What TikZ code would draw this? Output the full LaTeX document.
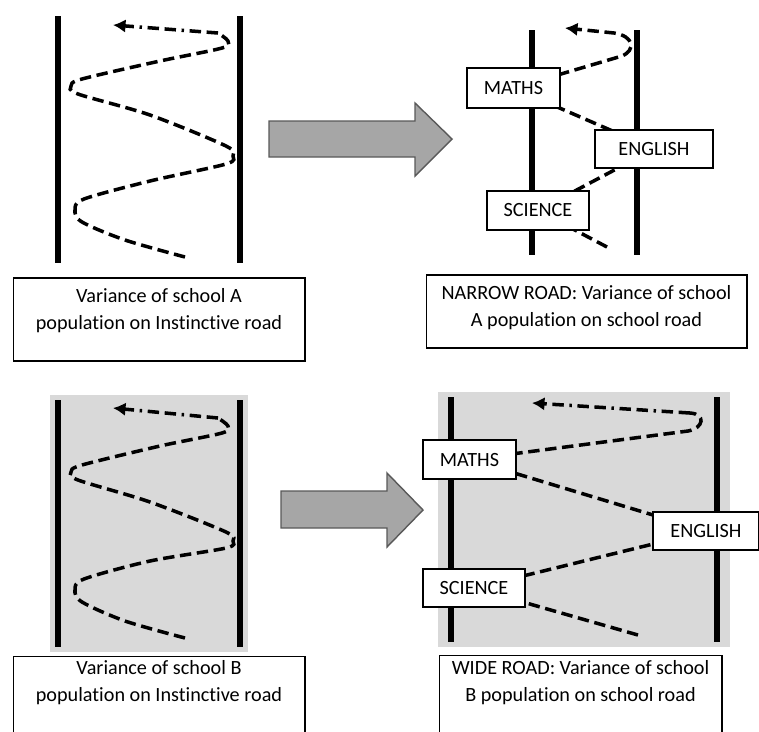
\documentclass[tikz,border=0pt]{standalone}
\usepackage{fontspec}
\setmainfont{Carlito}[Ligatures=NoCommon]
\usetikzlibrary{arrows.meta, backgrounds}
\definecolor{roadgray}{HTML}{D9D9D9}
\definecolor{arrowgray}{HTML}{A6A6A6}
\definecolor{arrowline}{HTML}{595959}
\tikzset{
  road/.style={
    line width=2.9pt, draw=black
  },
  wave/.style={
    line width=2pt, draw=black, dash pattern=on 6.5pt off 3.2pt
  },
  wavetop/.style={
    line width=2pt, draw=black,
    dash pattern=on 6.5pt off 3.2pt on 6.5pt off 3.2pt on 1.4pt off 3.2pt,
    -{Latex[length=2.5mm, width=2.7mm]}
  },
  subject/.style={
    rectangle, draw=black, fill=white, line width=0.6pt, text centered, inner sep=0pt
  },
  caption/.style={
    rectangle, draw=black, fill=white, line width=0.6pt
  },
  captext/.style={
    anchor=north, align=center, inner sep=0pt
  },
  bigarrow/.style={
    draw=arrowline, fill=arrowgray, line width=0.8pt, line join=miter
  }
}

\begin{document}
\begin{tikzpicture}[x=0.02cm, y=-0.02cm, every node/.style={font=\fontsize{11.5}{15.5}\selectfont}]
    \useasboundingbox (0,0) rectangle (759,731);
    \clip (0,0) rectangle (759,731);

    % Subject boxes on the school roads
    \node[subject, minimum width=1.86cm, minimum height=0.8cm] (mathsA) at (513.5,88) {MATHS};
    \node[subject, minimum width=2.36cm, minimum height=0.76cm] (englishA) at (654,149) {ENGLISH};
    \node[subject, minimum width=2.04cm, minimum height=0.78cm] (scienceA) at (538,210.5) {SCIENCE};

    \node[subject, minimum width=1.86cm, minimum height=0.78cm] (mathsB) at (469.5,459.5) {MATHS};
    \node[subject, minimum width=2.12cm, minimum height=0.76cm] (englishB) at (706,531) {ENGLISH};
    \node[subject, minimum width=2.04cm, minimum height=0.76cm] (scienceB) at (474,588) {SCIENCE};

    \coordinate (startA) at (607,247);
    \coordinate (tipA) at (565,28);
    \coordinate (startB) at (638,635);
    \coordinate (bendB) at (690,413);
    \coordinate (tipB) at (532,403);

    \begin{scope}[on background layer]
    % Grey ground of school B
    \fill[roadgray] (50,395) rectangle (248,652);
    \fill[roadgray] (438,392) rectangle (730,647);

    % Roads
    \draw[road] (58,16) -- (58,263);
    \draw[road] (240,16) -- (240,263);
    \draw[road] (532,30) -- (532,255);
    \draw[road] (637,30) -- (637,255);
    \draw[road] (58,400) -- (58,647);
    \draw[road] (240,400) -- (240,647);
    \draw[road] (451,397) -- (451,642);
    \draw[road] (717,397) -- (717,642);

    % Instinctive roads
    \draw[wave] plot[smooth, tension=0.5] coordinates {(185,257) (125,240) (82,222) (75,210) (84,199) (150,181) (226,164) (233,156) (226,146) (150,115) (78,94) (71,86) (82,79) (160,61) (222,48) (228,41) (218,33)};
    \draw[wavetop] (218,33) -- (113,25);
    \draw[wave] plot[smooth, tension=0.5] coordinates {(185,638) (125,621) (82,602) (75,590) (84,579) (150,561) (226,548) (233,541) (226,532) (150,502) (78,480) (71,472) (82,465) (160,446) (222,433) (228,426) (218,418)};
    \draw[wavetop] (218,418) -- (113,408);

    % School roads
    \draw[wave, -{Latex[length=2.5mm, width=2.7mm]}] (startA) -- (scienceA.center) -- (englishA.center) -- (mathsA.center)
        -- (622,56) .. controls (636,50) and (634,36) .. (614,33) -- (tipA);
    \draw[wave] (startB) -- (scienceB.center) -- (englishB.center) -- (mathsB.center)
        -- (688,431) .. controls (704,428) and (706,414) .. (bendB);
    \draw[wavetop] (bendB) -- (tipB);
    \end{scope}

    % Big arrows
    \draw[bigarrow] (269,121) -- (415,121) -- (415,103) -- (452,139) -- (415,176) -- (415,157) -- (269,157) -- cycle;
    \draw[bigarrow] (281,491) -- (387,491) -- (387,473) -- (423,510) -- (387,547) -- (387,528) -- (281,528) -- cycle;

    % Captions
    \node[caption, minimum width=5.84cm, minimum height=1.66cm,
      label={[captext, yshift=-0.21cm]north:{Variance of school A\\population on Instinctive road}}] (capA) at (159,319.5) {};
    \node[caption, minimum width=6.42cm, minimum height=1.46cm,
      label={[captext, yshift=-0.21cm]north:{NARROW ROAD: Variance of school\\A population on school road}}] (capNarrow) at (586.5,311.5) {};
    \node[caption, minimum width=5.84cm, minimum height=1.78cm,
      label={[captext, yshift=-0.09cm]north:{Variance of school B\\population on Instinctive road}}] (capB) at (159,700.5) {};
    \node[caption, minimum width=5.66cm, minimum height=1.8cm,
      label={[captext, yshift=-0.11cm]north:{WIDE ROAD: Variance of school\\B population on school road}}] (capWide) at (580.5,700) {};

    \end{tikzpicture}
\end{document}
